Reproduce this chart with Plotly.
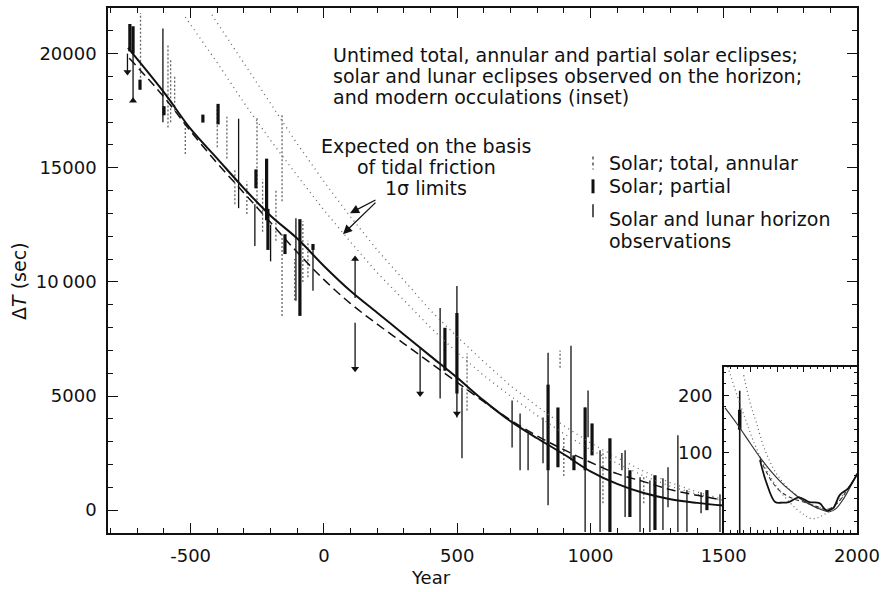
import plotly.graph_objects as go

# ---------------- main panel: fitted curves ----------------
solid_year = [-735, -600, -500, -400, -300, -200, -100, 0, 100, 200, 300, 400, 500,
              600, 700, 800, 900, 1000, 1100, 1200, 1300, 1400, 1500]
solid_val = [20250, 18300, 16700, 15400, 14100, 12900, 11900, 10700, 9600, 8650, 7700,
             6750, 5800, 4800, 3900, 3150, 2450, 1700, 1150, 750, 480, 320, 200]

dashed_year = [-730, -600, -500, -400, -300, -200, -100, 0, 100, 200, 300, 400, 500,
               600, 700, 800, 900, 1000, 1100, 1200, 1300, 1400, 1500]
dashed_val = [19800, 18100, 16600, 15200, 13900, 12600, 11300, 10100, 9050, 8150, 7300,
              6450, 5600, 4750, 3950, 3250, 2650, 2100, 1600, 1250, 900, 650, 440]

# tidal-friction expectation, 1-sigma limits (dotted)
limA_year = [-420, -300, -200, -100, 0, 100, 200, 300, 400, 500, 600, 700, 800, 900,
             1000, 1100, 1200, 1300, 1400, 1500]
limA_val = [21700, 19600, 17800, 16050, 14400, 12850, 11400, 10050, 8750, 7600, 6500,
            5450, 4550, 3700, 2950, 2300, 1700, 1200, 800, 460]
limB_year = [-520, -400, -300, -200, -100, 0, 100, 200, 300, 400, 500, 600, 700, 800,
             900, 1000, 1100, 1200, 1300, 1400, 1500]
limB_val = [21600, 19600, 17850, 16200, 14650, 13150, 11750, 10400, 9200, 8000, 6900,
            5900, 5000, 4150, 3350, 2650, 2050, 1500, 1050, 700, 400]

# ---------------- observations (vertical ranges) ----------------
# Solar; total, annular (thin dotted strokes)
tot_year = [-688, -585, -575, -560, -520, -400, -364, -334, -289, -251, -230, -180, -157,
            -157, -110, -79, -60, 537, 886, 900, 1047, 1200]
tot_lo = [18420, 16760, 17000, 17500, 15600, 15900, 15410, 13400, 12970, 13230, 12200,
          11800, 13530, 8510, 9200, 10000, 10200, 4370, 6240, 1500, 300, 300]
tot_hi = [21780, 20390, 19800, 19000, 17000, 17700, 17240, 14970, 14400, 17240, 14500,
          14000, 17330, 12090, 11000, 12660, 11800, 6860, 6990, 3200, 2600, 1500]

# Solar; partial (thick strokes)
par_year = [-728, -716, -690, -600, -454, -397, -255, -215, -210, -146, -90, -41,
            454, 499, 841, 878, 938, 980, 1006, 1073, 1148, 1242, 1437]
par_lo = [20100, 20000, 18420, 17300, 16980, 16900, 14100, 12700, 11400, 11220, 8510,
          11400, 6110, 5110, 1750, 1880, 1750, 1750, 2400, -960, -300, -870, 0]
par_hi = [21300, 21200, 18860, 17700, 17330, 17800, 14930, 15400, 13200, 12090, 12750,
          11660, 7990, 8640, 5500, 4500, 2400, 4500, 3800, 3150, 1750, 1530, 880]

# Solar and lunar horizon observations (thin solid strokes)
hor_year = [-737, -716, -604, -320, -259, -200, -105, -41, 117, 117, 361, 436, 499, 518,
            706, 736, 766, 822, 841, 927, 980, 991, 1036, 1075, 1118, 1130, 1186, 1223,
            1272, 1291, 1328, 1362, 1415, 1486]
hor_lo = [19200, 17940, 17000, 13230, 11570, 10900, 9170, 9610, 9300, 6200, 5110, 4890,
          4060, 2270, 2750, 1750, 1750, 2060, 220, 2190, -960, 3190, -960, 1750, 1750,
          -300, -960, -960, -870, 130, -960, -960, -130, -960]
hor_hi = [20000, 20250, 21100, 17150, 13400, 12500, 12790, 11660, 11000, 8210, 7120,
          8860, 9820, 5370, 4800, 4240, 3360, 4060, 6900, 7200, 4500, 5240, 2620, 3100,
          2500, 2620, 1440, 1300, 1400, 1880, 3280, 880, 790, 700]

# one-sided limits (arrow heads)
down_year = [-737, 117, 361, 499]
down_val = [19200, 6200, 5110, 4240]
up_year = [-716, 117]
up_val = [17940, 11000]

# ---------------- inset: modern occultations ----------------
ins_obs_year = [1636, 1660, 1693, 1720, 1744, 1782, 1821, 1859, 1884, 1910, 1935, 1967, 2000]
ins_obs_val = [87, 48, 14, 13, 14, 22, 14, 12, 0, 3, 26, 38, 62]
ins_fit_year = [1505, 1550, 1600, 1636, 1680, 1720, 1760, 1800, 1840, 1870, 1897, 1920,
                1950, 1980, 2000]
ins_fit_val = [178, 150, 116, 92, 66, 46, 30, 16, 6, 0, -3, 2, 20, 45, 64]
ins_dash_year = [1636, 1680, 1720, 1760, 1800, 1850, 1890, 1930, 1970, 2000]
ins_dash_val = [90, 50, 30, 20, 14, 6, 1, 14, 40, 62]
ins_dot1_year = [1515, 1550, 1580, 1610, 1650, 1700, 1750, 1800, 1830, 1860, 1900, 1950, 2000]
ins_dot1_val = [250, 200, 160, 122, 80, 40, 12, -8, -15, -12, 0, 25, 62]
ins_dot2_year = [1575, 1600, 1622, 1655, 1700, 1750, 1800, 1850, 1900, 1950, 2000]
ins_dot2_val = [235, 185, 153, 104, 62, 35, 18, 6, 3, 28, 62]
ins_bar_year = [1560]
ins_bar_lo = [-40]
ins_bar_hi = [208]
ins_barthick_lo = [140]
ins_barthick_hi = [175]

# ticks
x_tickvals = [-500, 0, 500, 1000, 1500, 2000]
x_ticktext = ["-500", "0", "500", "1000", "1500", "2000"]
y_tickvals = [0, 5000, 10000, 15000, 20000]
y_ticktext = ["0", "5000", "10\u2009000", "15000", "20000"]
ins_y_tickvals = [100, 200]
ins_y_ticktext = ["100", "200"]

FONT = "DejaVu Sans"
INK = "#111111"


def segs(years, lo, hi):
    xs, ys = [], []
    for yr, a, b in zip(years, lo, hi):
        xs += [yr, yr, None]
        ys += [a, b, None]
    return xs, ys


fig = go.Figure()

# observations
x, y = segs(tot_year, tot_lo, tot_hi)
fig.add_trace(go.Scatter(x=x, y=y, mode="lines", line=dict(color="#666666", width=1.3, dash="2px,2px"),
                         hoverinfo="skip"))
x, y = segs(hor_year, hor_lo, hor_hi)
fig.add_trace(go.Scatter(x=x, y=y, mode="lines", line=dict(color=INK, width=1.3), hoverinfo="skip"))
x, y = segs(par_year, par_lo, par_hi)
fig.add_trace(go.Scatter(x=x, y=y, mode="lines", line=dict(color=INK, width=3.2), hoverinfo="skip"))
fig.add_trace(go.Scatter(x=down_year, y=down_val, mode="markers",
                         marker=dict(symbol="triangle-down", size=7, color=INK), hoverinfo="skip"))
fig.add_trace(go.Scatter(x=up_year, y=up_val, mode="markers",
                         marker=dict(symbol="triangle-up", size=7, color=INK), hoverinfo="skip"))

# curves
fig.add_trace(go.Scatter(x=limA_year, y=limA_val, mode="lines",
                         line=dict(color="#666666", width=1.3, dash="1px,4px")))
fig.add_trace(go.Scatter(x=limB_year, y=limB_val, mode="lines",
                         line=dict(color="#666666", width=1.3, dash="1px,4px")))
fig.add_trace(go.Scatter(x=dashed_year, y=dashed_val, mode="lines", line=dict(color=INK, width=1.5, dash="9px,5px"),
                         line_shape="spline"))
fig.add_trace(go.Scatter(x=solid_year, y=solid_val, mode="lines", line=dict(color=INK, width=2.0),
                         line_shape="spline"))

# inset traces
x, y = segs(ins_bar_year, ins_bar_lo, ins_bar_hi)
fig.add_trace(go.Scatter(x=x, y=y, mode="lines", line=dict(color=INK, width=1.6), xaxis="x2", yaxis="y2"))
x, y = segs(ins_bar_year, ins_barthick_lo, ins_barthick_hi)
fig.add_trace(go.Scatter(x=x, y=y, mode="lines", line=dict(color=INK, width=3.5), xaxis="x2", yaxis="y2"))
fig.add_trace(go.Scatter(x=ins_dot1_year, y=ins_dot1_val, mode="lines",
                         line=dict(color="#666666", width=1.2, dash="1px,3px"),
                         line_shape="spline", xaxis="x2", yaxis="y2"))
fig.add_trace(go.Scatter(x=ins_dot2_year, y=ins_dot2_val, mode="lines",
                         line=dict(color="#666666", width=1.2, dash="1px,3px"),
                         line_shape="spline", xaxis="x2", yaxis="y2"))
fig.add_trace(go.Scatter(x=ins_dash_year, y=ins_dash_val, mode="lines", line=dict(color="#333333", width=1.1, dash="4px,3px"),
                         line_shape="spline", xaxis="x2", yaxis="y2"))
fig.add_trace(go.Scatter(x=ins_fit_year, y=ins_fit_val, mode="lines", line=dict(color="#333333", width=1.2),
                         line_shape="spline", xaxis="x2", yaxis="y2"))
fig.add_trace(go.Scatter(x=ins_obs_year, y=ins_obs_val, mode="lines", line=dict(color=INK, width=1.8),
                         line_shape="spline", xaxis="x2", yaxis="y2"))

# ---------------- layout ----------------
L, R, T, B = 108, 33, 6, 59
W, H = 890, 592
PW, PH = W - L - R, H - T - B


def px(xp):
    return (xp - L) / PW


def py(yp):
    return (H - B - yp) / PH


XMIN, XMAX = -810, 2000
inset_x0 = (1500 - XMIN) / (XMAX - XMIN)

axis_common = dict(showline=True, linecolor=INK, linewidth=1.5, showgrid=False, zeroline=False,
                   ticks="inside", tickcolor=INK, mirror="ticks")

fig.update_layout(
    width=W, height=H, autosize=False,
    margin=dict(l=L, r=R, t=T, b=B, pad=0),
    paper_bgcolor="white", plot_bgcolor="white",
    showlegend=False,
    font=dict(family=FONT, size=18, color=INK),
    xaxis=dict(range=[XMIN, XMAX], domain=[0, 1], tickmode="array", tickvals=x_tickvals,
               ticktext=x_ticktext, ticklen=10, tickwidth=1.3,
               minor=dict(dtick=100, ticklen=5, tickcolor=INK, ticks="inside", tick0=0),
               ticklabelstandoff=6, tickfont=dict(family=FONT, size=18, color=INK), **axis_common),
    yaxis=dict(range=[-1000, 22000], domain=[0, 1], tickmode="array", tickvals=y_tickvals,
               ticktext=y_ticktext, ticklen=10, tickwidth=1.3,
               minor=dict(dtick=1000, ticklen=5, tickcolor=INK, ticks="inside", tick0=0),
               ticklabelstandoff=6, tickfont=dict(family=FONT, size=18, color=INK), **axis_common),
    xaxis2=dict(range=[1500, 2000], domain=[inset_x0, 1], anchor="y2", showticklabels=False,
                dtick=100, tick0=1500, ticklen=6, minor=dict(dtick=25, ticklen=3, tickcolor=INK, ticks="inside"),
                **axis_common),
    yaxis2=dict(range=[-40, 250], domain=[0, py(366)], anchor="x2", tickmode="array",
                tickvals=ins_y_tickvals, ticktext=ins_y_ticktext, ticklen=6,
                minor=dict(dtick=20, tick0=0, ticklen=3, tickcolor=INK, ticks="inside"),
                ticklabelstandoff=6, tickfont=dict(family=FONT, size=18, color=INK), **axis_common),
)

ann = []
TXT = dict(family=FONT, size=19, color=INK)


def text(s, xp, yp, anchor="left"):
    ann.append(dict(text=s, x=px(xp), y=py(yp), xref="paper", yref="paper", showarrow=False,
                    xanchor=anchor, yanchor="middle", font=TXT))


text("Untimed total, annular and partial solar eclipses;", 331, 53)
text("solar and lunar eclipses observed on the horizon;", 331, 74)
text("and modern occulations (inset)", 331, 95)
text("Expected on the basis", 426, 145, "center")
text("of tidal friction", 426, 166, "center")
text("1\u03c3 limits", 426, 187, "center")
text("Solar; total, annular", 607, 162)
text("Solar; partial", 607, 185)
text("Solar and lunar horizon", 607, 218)
text("observations", 607, 240)

# axis titles
ann.append(dict(text="Year", x=px(431), y=py(578), xref="paper", yref="paper", showarrow=False,
                xanchor="center", yanchor="middle", font=dict(family=FONT, size=18, color=INK)))
ann.append(dict(text="\u0394<i>T</i> (sec)", x=px(19), y=py(280), xref="paper", yref="paper", showarrow=False,
                xanchor="center", yanchor="middle", textangle=-90, font=dict(family=FONT, size=19, color=INK)))

# arrows pointing to the 1-sigma limit curves
for hx, hy, tx, ty in [(350, 212, 377, 198), (343, 233, 377, 200)]:
    ann.append(dict(text="", x=px(hx), y=py(hy), xref="paper", yref="paper", ax=tx - hx, ay=ty - hy,
                    axref="pixel", ayref="pixel", showarrow=True, arrowhead=2, arrowsize=1.4,
                    arrowwidth=1.3, arrowcolor=INK))

fig.update_layout(annotations=ann)

# legend glyphs
shapes = []
gx = px(593)
shapes.append(dict(type="line", xref="paper", yref="paper", x0=gx, x1=gx, y0=py(155), y1=py(168),
                   line=dict(color="#555555", width=1.5, dash="dot")))
shapes.append(dict(type="line", xref="paper", yref="paper", x0=gx, x1=gx, y0=py(178), y1=py(192),
                   line=dict(color=INK, width=3)))
shapes.append(dict(type="line", xref="paper", yref="paper", x0=gx, x1=gx, y0=py(203), y1=py(216),
                   line=dict(color=INK, width=1.4)))
fig.update_layout(shapes=shapes)

fig.write_html("out.html")
